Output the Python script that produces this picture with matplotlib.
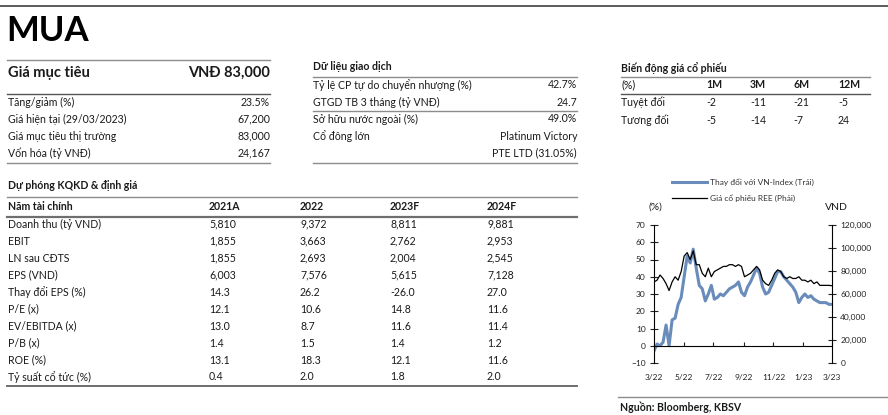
import pandas as pd
import matplotlib
matplotlib.use("Agg")
import matplotlib.pyplot as plt
from matplotlib.lines import Line2D
from matplotlib.ticker import FuncFormatter

plt.rcParams['font.family'] = ['Lato', 'DejaVu Sans']

# ---- data ----------------------------------------------------------------
rating = "MUA"
target_label = "Giá mục tiêu"
target_price = "VNĐ 83,000"
target_rows = ["Tăng/giảm (%)", "Giá hiện tại (29/03/2023)",
               "Giá mục tiêu thị trường", "Vốn hóa (tỷ VNĐ)"]
target_vals = ["23.5%", "67,200", "83,000", "24,167"]

trade_title = "Dữ liệu giao dịch"
trade_rows = ["Tỷ lệ CP tự do chuyển nhượng (%)", "GTGD TB 3 tháng (tỷ VNĐ)",
              "Sở hữu nước ngoài (%)", "Cổ đông lớn", ""]
trade_vals = ["42.7%", "24.7", "49.0%", "Platinum Victory", "PTE LTD (31.05%)"]

perf_title = "Biến động giá cổ phiếu"
perf_cols = ["1M", "3M", "6M", "12M"]
perf_abs = [-2, -11, -21, -5]
perf_rel = [-5, -14, -7, 24]

fin_title = "Dự phóng KQKD & định giá"
fin_years = ["2021A", "2022", "2023F", "2024F"]
fin_rows = ["Doanh thu (tỷ VND)", "EBIT", "LN sau CĐTS", "EPS (VND)",
            "Thay đổi EPS (%)", "P/E (x)", "EV/EBITDA (x)", "P/B (x)",
            "ROE (%)", "Tỷ suất cổ tức (%)"]
fin_2021 = ["5,810", "1,855", "1,855", "6,003", "14.3", "12.1", "13.0", "1.4", "13.1", "0.4"]
fin_2022 = ["9,372", "3,663", "2,693", "7,576", "26.2", "10.6", "8.7", "1.5", "18.3", "2.0"]
fin_2023 = ["8,811", "2,762", "2,004", "5,615", "-26.0", "14.8", "11.6", "1.4", "12.1", "1.8"]
fin_2024 = ["9,881", "2,953", "2,545", "7,128", "27.0", "11.6", "11.4", "1.2", "11.6", "2.0"]

# chart: relative change vs VN-Index (%) and REE share price (VND)
rel_vnindex = [-3, 1, 0, 2, 12, 0, 15, 16, 24, 28,
               40, 52, 48, 56, 45, 35, 33, 26, 30, 35,
               27, 28, 30, 29, 31, 33, 34, 35, 37, 31,
               29, 34, 37, 41, 45, 42, 34, 30, 31, 35,
               39, 43, 43, 40, 38, 36, 34, 31, 25, 28,
               30, 28, 29, 27, 26, 25, 25, 25, 24, 24]
ree_price = [70500, 72000, 76500, 73500, 69000, 63000, 70500, 75000, 72000, 79500,
             93000, 96000, 90000, 97500, 85500, 85500, 78000, 75000, 82500, 75000,
             79500, 81000, 82500, 84000, 84000, 85500, 85500, 84000, 85500, 84000,
             75000, 76500, 78000, 81000, 84000, 81000, 72000, 69000, 67500, 72000,
             78000, 81000, 79500, 75000, 73500, 75000, 73500, 73500, 75000, 72000,
             72000, 70500, 72000, 69000, 70500, 67500, 67500, 67500, 67500, 67200]
dates = pd.date_range("2022-03-29", "2023-03-29", periods=len(rel_vnindex))
tick_dates = [dates[0] + pd.DateOffset(months=2 * i) for i in range(7)]
legend_labels = ["Thay đổi với VN-Index (Trái)", "Giá cổ phiếu REE (Phải)"]
source = "Nguồn: Bloomberg, KBSV"

# ---- layout helpers (pixel coords, origin top-left) ------------------------
W, H = 888, 415
fig = plt.figure(figsize=(W / 100, H / 100), dpi=100)

TXT = "#1a1a1a"
FS = 7.6


def put(x, y, s, ha="left", size=FS, bold=False, color=TXT):
    fig.text(x / W, 1 - y / H, s, ha=ha, va="center", fontsize=size,
             fontweight="bold" if bold else "normal", color=color)


def rule(x0, x1, y, color="#8c8c8c", lw=1.0):
    fig.add_artist(Line2D([x0 / W, x1 / W], [1 - y / H] * 2,
                          transform=fig.transFigure, color=color, lw=lw))


rule(0, W, 6, color="#404040", lw=1.2)
put(6, 31, rating, size=25, bold=True, color="black")

# target price block
rule(7, 270, 60)
put(8, 73, target_label, size=10.5, bold=True)
put(270, 73, target_price, ha="right", size=10.5, bold=True)
rule(7, 270, 94, color="#555555")
for i, (lab, val) in enumerate(zip(target_rows, target_vals)):
    put(8, 102 + 17 * i, lab)
    put(270, 102 + 17 * i, val, ha="right")
rule(7, 270, 163)

# trading data block
put(313, 67, trade_title, bold=True)
rule(313, 577, 77)
for i, (lab, val) in enumerate(zip(trade_rows, trade_vals)):
    put(313, 85 + 17 * i, lab)
    put(577, 85 + 17 * i, val, ha="right")
rule(313, 577, 111)
rule(313, 577, 163)

# price performance block
perf_x = [706, 750, 793, 838]
put(621, 68, perf_title, bold=True)
rule(621, 870, 77)
put(621, 85, "(%)")
for x, c in zip(perf_x, perf_cols):
    put(x, 85, c, bold=True)
rule(621, 870, 94, color="#555555")
put(621, 102, "Tuyệt đối")
put(621, 120, "Tương đối")
for x, a, r in zip(perf_x, perf_abs, perf_rel):
    put(x, 102, str(a))
    put(x, 120, str(r))

# financial forecast block
year_x = [209, 300, 390, 487]
put(8, 185, fin_title, bold=True)
rule(7, 577, 197)
put(8, 206, "Năm tài chính", bold=True)
for x, yr in zip(year_x, fin_years):
    put(x, 206, yr, bold=True)
rule(7, 577, 217, color="#6e6e6e", lw=1.6)
for i, lab in enumerate(fin_rows):
    y = 224 + 17 * i
    put(8, y, lab)
    for x, col in zip(year_x, [fin_2021, fin_2022, fin_2023, fin_2024]):
        put(x, y, col[i])
rule(7, 577, 386, color="#6e6e6e", lw=1.4)

# ---- chart ---------------------------------------------------------------
ax = fig.add_axes([654 / W, 1 - 363 / H, 178 / W, 138 / H])
l1, = ax.plot(dates, rel_vnindex, color="#6A8CBA", lw=2.2)
ax.set_ylim(-10, 70)
ax.set_yticks(range(-10, 71, 10))
ax.set_xlim(dates[0], dates[-1])
ax.set_xticks(tick_dates)
ax.set_xticklabels([f"{d.month}/{d:%y}" for d in tick_dates])
ax.spines["top"].set_visible(False)
ax.spines["right"].set_visible(False)
ax.spines["bottom"].set_position(("data", 0))
ax.patch.set_alpha(0)
ax.tick_params(axis="y", direction="inout", length=6, width=0.8, labelsize=6,
               pad=3, colors="#222222")
ax.tick_params(axis="x", direction="in", length=3, width=0.8, labelsize=6,
               pad=20, colors="#222222")

ax2 = ax.twinx()
l2, = ax2.plot(dates, ree_price, color="black", lw=0.9)
ax2.set_ylim(0, 120000)
ax2.set_yticks(range(0, 120001, 20000))
ax2.yaxis.set_major_formatter(FuncFormatter(lambda v, p: f"{int(v):,}"))
for s in ["top", "bottom", "left"]:
    ax2.spines[s].set_visible(False)
ax2.tick_params(axis="y", direction="inout", length=6, width=0.8, labelsize=6,
                pad=3, colors="#222222")

fig.text(655 / W, 1 - 207 / H, "(%)", ha="center", va="center", fontsize=7.5, color=TXT)
fig.text(836 / W, 1 - 207 / H, "VND", ha="center", va="center", fontsize=7.5, color=TXT)

fig.legend([l1, l2], legend_labels, loc="upper left",
           bbox_to_anchor=(672 / W, 1 - 178 / H), frameon=False, fontsize=6,
           handlelength=4.2, handletextpad=0.3, labelspacing=1.0,
           borderpad=0, borderaxespad=0, labelcolor="#333333")

rule(618, W, 397)
put(620, 407, source, bold=True)

fig.savefig("out.png", dpi=100)
